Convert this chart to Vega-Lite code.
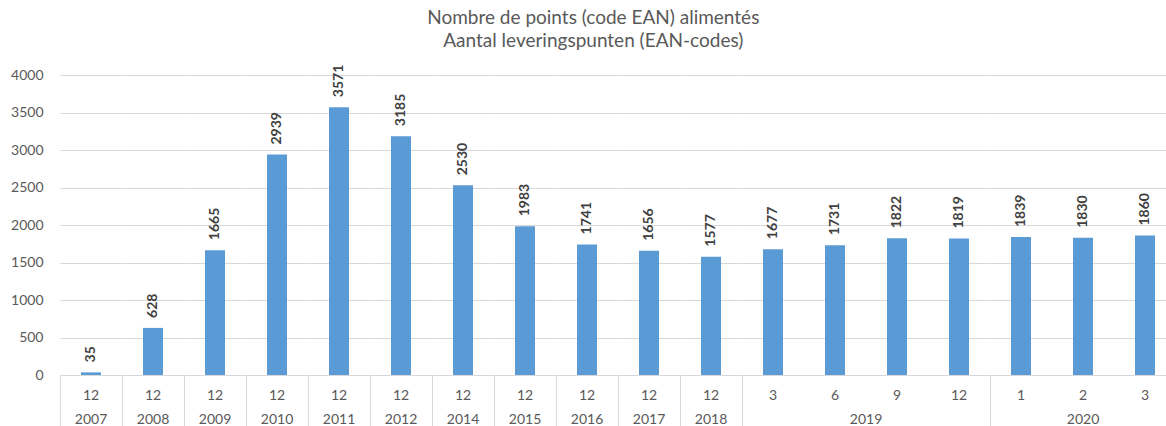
{
  "$schema": "https://vega.github.io/schema/vega-lite/v6.json",
  "padding": {"left": 10, "top": 8, "right": 0, "bottom": 0},
  "background": "white",
  "bounds": "flush",
  "title": {
    "text": ["Nombre de points (code EAN) alimentés", "Aantal leveringspunten (EAN-codes)"],
    "anchor": "middle", "frame": "bounds",
    "font": "Lato", "fontSize": 19, "fontWeight": "normal", "color": "#595959", "lineHeight": 23, "offset": 14
  },
  "data": {"values": [
    {"year": "2007", "month": 12, "value": 35},
    {"year": "2008", "month": 12, "value": 628},
    {"year": "2009", "month": 12, "value": 1665},
    {"year": "2010", "month": 12, "value": 2939},
    {"year": "2011", "month": 12, "value": 3571},
    {"year": "2012", "month": 12, "value": 3185},
    {"year": "2014", "month": 12, "value": 2530},
    {"year": "2015", "month": 12, "value": 1983},
    {"year": "2016", "month": 12, "value": 1741},
    {"year": "2017", "month": 12, "value": 1656},
    {"year": "2018", "month": 12, "value": 1577},
    {"year": "2019", "month": 3, "value": 1677},
    {"year": "2019", "month": 6, "value": 1731},
    {"year": "2019", "month": 9, "value": 1822},
    {"year": "2019", "month": 12, "value": 1819},
    {"year": "2020", "month": 1, "value": 1839},
    {"year": "2020", "month": 2, "value": 1830},
    {"year": "2020", "month": 3, "value": 1860}
  ]},
  "facet": {"column": {"field": "year", "type": "ordinal", "header": {
    "title": null, "labelOrient": "bottom", "labelFont": "Lato", "labelFontSize": 14,
    "labelColor": "#595959", "labelPadding": 38
  }}},
  "spacing": 0,
  "resolve": {"scale": {"x": "independent"}},
  "spec": {
    "width": {"step": 62},
    "height": 300,
    "encoding": {
      "x": {"field": "month", "type": "ordinal", "scale": {"paddingInner": 0, "paddingOuter": 0},
        "axis": {
          "title": null, "domain": false, "ticks": true, "bandPosition": 0, "tickSize": 51,
          "tickColor": "#d9d9d9",
          "tickOpacity": {"condition": {"test": "datum.index === 0", "value": 1}, "value": 0},
          "labelAngle": 0, "labelFont": "Lato", "labelFontSize": 14, "labelColor": "#595959",
          "labelPadding": -38
        }},
      "y": {"field": "value", "type": "quantitative", "scale": {"domain": [0, 4000]},
        "axis": {
          "title": null, "values": [0, 500, 1000, 1500, 2000, 2500, 3000, 3500, 4000], "format": "d",
          "domain": false, "ticks": false, "grid": true, "gridColor": "#d9d9d9",
          "labelFont": "Lato", "labelFontSize": 14, "labelColor": "#595959", "labelPadding": 17
        }}
    },
    "layer": [
      {
        "mark": {"type": "bar", "color": "#5B9BD5", "size": 20}
      },
      {
        "mark": {"type": "text", "angle": 270, "align": "left", "baseline": "middle", "dx": 10,
          "font": "Lato", "fontWeight": "bold", "fontSize": 14, "color": "#404040"},
        "encoding": {
          "text": {"field": "value", "type": "quantitative", "format": "d"}
        }
      }
    ]
  },
  "config": {"view": {"stroke": null}}
}
